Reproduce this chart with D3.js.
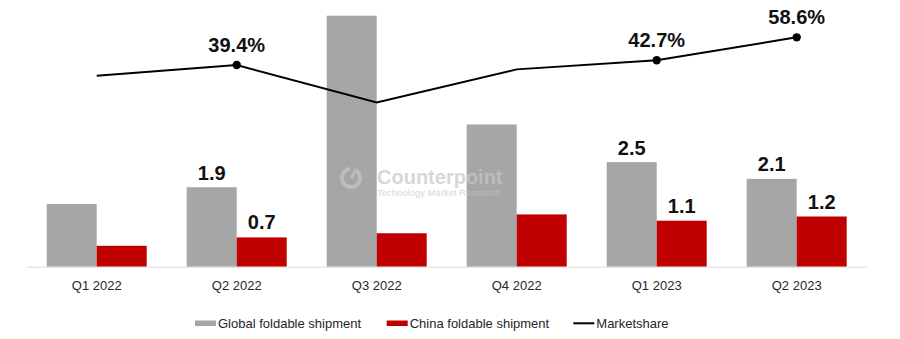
<!DOCTYPE html>
<html>
<head>
<meta charset="utf-8">
<script src="https://cdn.jsdelivr.net/npm/d3@7"></script>
<style>
  html, body { margin: 0; padding: 0; background: #fff; }
  svg { display: block; font-family: "Liberation Sans", Arial, sans-serif; }
</style>
</head>
<body>
<svg id="chart" width="900" height="339"></svg>
<script>
const categories = ["Q1 2022", "Q2 2022", "Q3 2022", "Q4 2022", "Q1 2023", "Q2 2023"];
const globalShipment = [1.5, 1.9, 6.0, 3.4, 2.5, 2.1];
const chinaShipment = [0.5, 0.7, 0.8, 1.25, 1.1, 1.2];
const marketshare = [32.0, 39.4, 13.5, 36.4, 42.7, 58.6];
const globalLabels = [null, "1.9", null, null, "2.5", "2.1"];
const chinaLabels = [null, "0.7", null, null, "1.1", "1.2"];
const shareLabels = [null, "39.4%", null, null, "42.7%", "58.6%"];
const seriesNames = ["Global foldable shipment", "China foldable shipment", "Marketshare"];

const svg = d3.select("#chart");
const baseY = 266.7;

const x = d3.scaleBand().domain(categories).range([26.7, 866.7]).paddingInner(0.2857).paddingOuter(0.1429);
const sub = d3.scaleBand().domain(["g", "c"]).range([0, x.bandwidth()]);
const y = d3.scaleLinear().domain([0, 6]).range([baseY, 15.7]);
const y2 = d3.scaleLinear().domain([0, 100]).range([121.9, -22.4]);

// bars
const groups = svg.append("g").selectAll("g").data(categories).join("g")
  .attr("transform", d => `translate(${x(d)},0)`);
groups.append("rect")
  .attr("x", sub("g")).attr("width", sub.bandwidth())
  .attr("y", (d, i) => y(globalShipment[i])).attr("height", (d, i) => baseY - y(globalShipment[i]))
  .attr("fill", "#a6a6a6");
groups.append("rect")
  .attr("x", sub("c")).attr("width", sub.bandwidth())
  .attr("y", (d, i) => y(chinaShipment[i])).attr("height", (d, i) => baseY - y(chinaShipment[i]))
  .attr("fill", "#c00000");

// axis
const xAxis = d3.axisBottom(x).tickSize(0).tickPadding(14);
const ax = svg.append("g").attr("transform", `translate(0,${baseY})`).call(xAxis);
ax.select(".domain").attr("stroke", "#d9d9d9").attr("stroke-width", 1);
ax.selectAll("text").attr("font-size", 13).attr("fill", "#262626")
  .attr("font-family", "Liberation Sans, Arial, sans-serif");

// watermark
const wm = svg.append("g").attr("opacity", 0.7).attr("fill", "#c7c7c7");
wm.append("path")
  .attr("transform", "translate(351,178)")
  .attr("d", d3.arc().innerRadius(7).outerRadius(11).startAngle(0.5).endAngle(2 * Math.PI - 0.1)())
  .attr("fill", "#c7c7c7");
wm.append("line").attr("x1", 351).attr("y1", 178).attr("x2", 356).attr("y2", 170)
  .attr("stroke", "#c7c7c7").attr("stroke-width", 3);
wm.append("text").attr("x", 377).attr("y", 184).attr("font-size", 20).attr("font-weight", "bold").text("Counterpoint");
wm.append("text").attr("x", 377).attr("y", 195.5).attr("font-size", 9.5).text("Technology Market Research");

// line
const cx = d => x(d) + x.bandwidth() / 2;
const line = d3.line().x((d, i) => cx(categories[i])).y(d => y2(d));
svg.append("path").datum(marketshare).attr("d", line)
  .attr("fill", "none").attr("stroke", "#000").attr("stroke-width", 2);
svg.append("g").selectAll("circle").data(marketshare.map((v, i) => ({ v, i })).filter(d => shareLabels[d.i]))
  .join("circle")
  .attr("cx", d => cx(categories[d.i])).attr("cy", d => y2(d.v)).attr("r", 4.2).attr("fill", "#000");
svg.append("g").selectAll("text").data(marketshare.map((v, i) => ({ v, i })).filter(d => shareLabels[d.i]))
  .join("text")
  .attr("x", d => cx(categories[d.i])).attr("y", d => y2(d.v) - 13.3)
  .attr("text-anchor", "middle").attr("font-size", 20).attr("font-weight", "bold").attr("fill", "#111")
  .text(d => shareLabels[d.i]);

// bar labels
groups.append("text")
  .attr("x", sub("g") + sub.bandwidth() / 2)
  .attr("y", (d, i) => y(globalShipment[i]) - 7.5)
  .attr("text-anchor", "middle").attr("font-size", 20).attr("font-weight", "bold").attr("fill", "#111")
  .text((d, i) => globalLabels[i] || "");
groups.append("text")
  .attr("x", sub("c") + sub.bandwidth() / 2)
  .attr("y", (d, i) => y(chinaShipment[i]) - 8)
  .attr("text-anchor", "middle").attr("font-size", 20).attr("font-weight", "bold").attr("fill", "#111")
  .text((d, i) => chinaLabels[i] || "");

// legend
const legend = svg.append("g").attr("font-size", 13).attr("fill", "#262626");
const legendX = [195, 386.7, 573.3];
seriesNames.forEach((name, i) => {
  const g = legend.append("g").attr("transform", `translate(${legendX[i]},0)`);
  if (i < 2) {
    g.append("rect").attr("x", 0).attr("y", 320.5).attr("width", 21).attr("height", 5.5)
      .attr("fill", i === 0 ? "#a6a6a6" : "#c00000");
  } else {
    g.append("line").attr("x1", 0).attr("x2", 21).attr("y1", 323.3).attr("y2", 323.3)
      .attr("stroke", "#000").attr("stroke-width", 2);
  }
  g.append("text").attr("x", 23).attr("y", 327.5).text(name);
});
</script>
</body>
</html>
